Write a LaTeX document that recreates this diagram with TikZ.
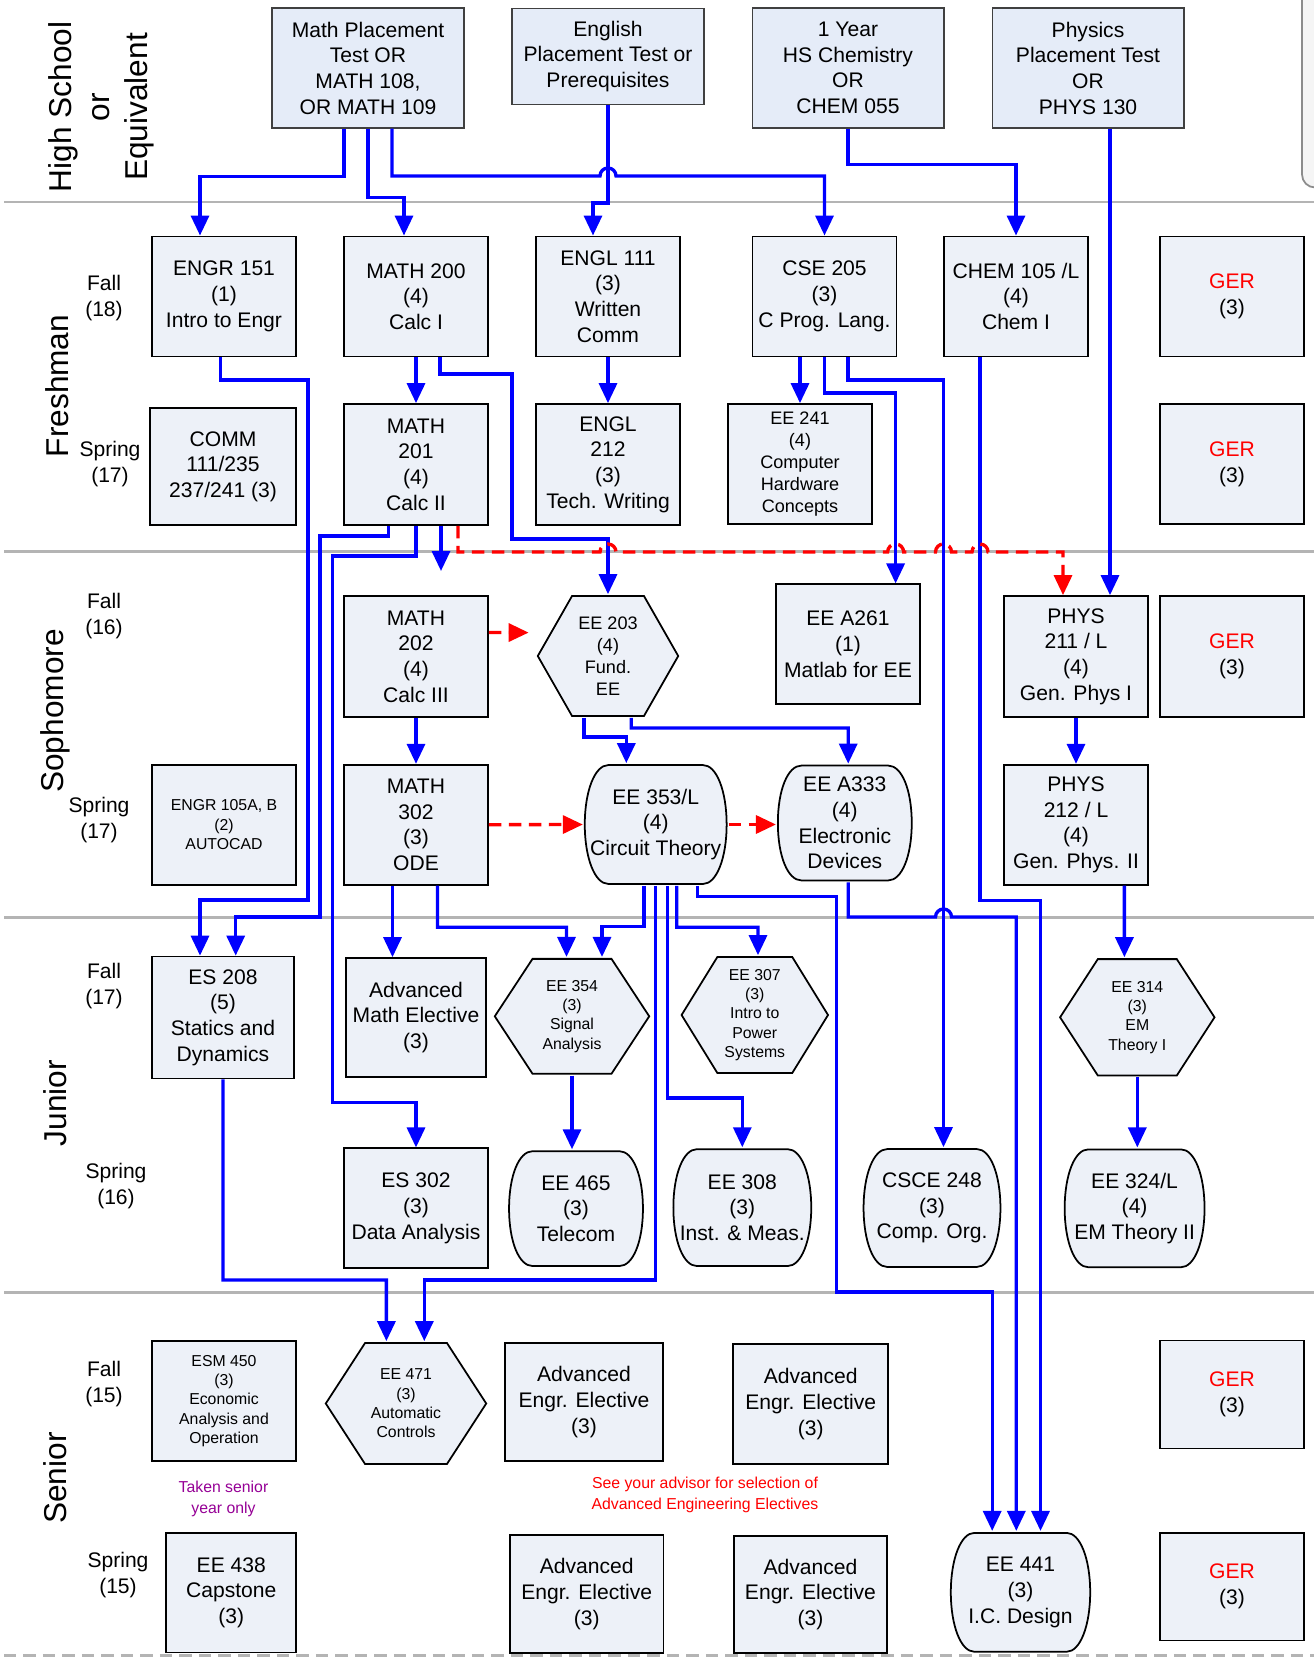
\documentclass[tikz,border=0pt]{standalone}
\usepackage{fontspec}
\setmainfont{Liberation Sans}
\usetikzlibrary{shapes,arrows.meta,calc}

\definecolor{boxfill}{RGB}{237,241,248}
\definecolor{testfill}{RGB}{229,236,248}
\definecolor{notepurple}{RGB}{150,0,150}
\definecolor{ruleg}{RGB}{180,180,180}
\newcommand{\ppb}{path picture bounding box}

\begin{document}
\begin{tikzpicture}[
    x=0.02cm, y=-0.02cm,
    course/.style={rectangle, draw=black, fill=boxfill, line width=1pt, minimum width=2.88cm, minimum height=2.4cm, inner sep=0pt, align=center, font=\fontsize{12}{14.6}\selectfont},
    placement/.style={course, draw=black!75, fill=testfill, line width=0.6pt, minimum width=3.84cm},
    small/.style={font=\fontsize{10.3}{12.6}\selectfont},
    tiny/.style={font=\fontsize{9}{11}\selectfont},
    hexcourse/.style={course, draw=none, fill=none, path picture={
        \filldraw[fill=boxfill, draw=black, line width=1pt]
          ([xshift=1pt]\ppb.west)
          -- ($(\ppb.north west)!0.25!(\ppb.north east)+(0,-0.6pt)$)
          -- ($(\ppb.north west)!0.75!(\ppb.north east)+(0,-0.6pt)$)
          -- ([xshift=-1pt]\ppb.east)
          -- ($(\ppb.south west)!0.75!(\ppb.south east)+(0,0.6pt)$)
          -- ($(\ppb.south west)!0.25!(\ppb.south east)+(0,0.6pt)$)
          -- cycle;}},
    ovalcourse/.style={course, draw=none, fill=none, path picture={
        \filldraw[fill=boxfill, draw=black, line width=1pt]
          ([xshift=14pt,yshift=0.6pt]\ppb.south west)
          -- ([xshift=-14pt,yshift=0.6pt]\ppb.south east)
          .. controls +(7.7pt,0) and +(0,-19pt) .. ([xshift=-0.6pt]\ppb.east)
          .. controls +(0,19pt) and +(7.7pt,0) .. ([xshift=-14pt,yshift=-0.6pt]\ppb.north east)
          -- ([xshift=14pt,yshift=-0.6pt]\ppb.north west)
          .. controls +(-7.7pt,0) and +(0,19pt) .. ([xshift=0.6pt]\ppb.west)
          .. controls +(0,-19pt) and +(-7.7pt,0) .. ([xshift=14pt,yshift=0.6pt]\ppb.south west)
          -- cycle;}},
    yearlabel/.style={rotate=90, align=center, font=\fontsize{18}{21.6}\selectfont},
    term/.style={align=center, font=\fontsize{12}{14.8}\selectfont},
    note/.style={align=center, font=\fontsize{9}{11.7}\selectfont},
    divider/.style={draw=ruleg, line width=1.7pt},
    flow/.style={draw=blue, line width=1.9pt, -{Triangle[width=0.36cm,length=0.4cm]}},
    dep/.style={draw=red, line width=1.9pt, dash pattern=on 0.25cm off 0.15cm, -{Triangle[width=0.36cm,length=0.4cm]}},
]
    \useasboundingbox (0,0) rectangle (1314,1659);
    \fill[white] (0,0) rectangle (1314,1659);
    \clip (0,0) rectangle (1314,1659);

    % Year rules
    \foreach \yy in {202,551.7,917,1292}
        \draw[divider] (4,\yy) -- (1314,\yy);
    \draw[divider, dash pattern=on 0.25cm off 0.14cm] (4,1655) -- (1314,1655);
    \draw[draw=black!45, fill=black!4, line width=1pt, rounded corners=0.26cm] (1302,-30) rectangle (1400,187.5);

    % Years and terms
    \node[yearlabel] (hs) at (101,107) {High School\\or\\Equivalent};
    \node[yearlabel] (fresh) at (57,386) {Freshman};
    \node[yearlabel] (soph) at (55,711) {Sophomore};
    \node[yearlabel] (jun) at (55,1103) {Junior};
    \node[yearlabel] (sen) at (55,1478) {Senior};
    \node[term] (fall1) at (104,298) {Fall\\(18)};
    \node[term] (spring1) at (110,464.5) {Spring\\(17)};
    \node[term] (fall2) at (104,616) {Fall\\(16)};
    \node[term] (spring2) at (99,820.5) {Spring\\(17)};
    \node[term] (fall3) at (104,986) {Fall\\(17)};
    \node[term] (spring3) at (116,1185.7) {Spring\\(16)};
    \node[term] (fall4) at (104,1384) {Fall\\(15)};
    \node[term] (spring4) at (118,1574.6) {Spring\\(15)};

    % Placement
    \node[placement] (mathpt) at (368,68) {Math Placement\\Test OR\\MATH 108,\\OR MATH 109};
    \node[placement, minimum height=1.93cm] (englpt) at (608,56.5) {English\\Placement Test or\\Prerequisites};
    \node[placement] (chempt) at (848,68) {1 Year\\HS Chemistry\\OR\\CHEM 055};
    \node[placement] (physpt) at (1088,68) {Physics\\Placement Test\\OR\\PHYS 130};

    % Freshman
    \node[course] (engr151) at (224,296.4) {ENGR 151\\(1)\\Intro to Engr};
    \node[course] (math200) at (416,296.4) {MATH 200\\(4)\\Calc I};
    \node[course] (engl111) at (608,296.4) {ENGL 111\\(3)\\Written\\Comm};
    \node[course] (cse205) at (824.5,296.4) {CSE 205\\(3)\\C Prog. Lang.};
    \node[course] (chem105) at (1016,296.4) {CHEM 105 /L\\(4)\\Chem I};
    \node[course] (ger1) at (1232,296.4) {\textcolor{red}{GER}\\(3)};
    \node[course, minimum width=2.92cm, minimum height=2.34cm] (comm) at (223,466.5) {COMM\\111/235\\237/241 (3)};
    \node[course, minimum height=2.42cm] (math201) at (416,464.5) {MATH\\201\\(4)\\Calc II};
    \node[course, minimum height=2.42cm] (engl212) at (608,464.5) {ENGL\\212\\(3)\\Tech. Writing};
    \node[course, small] (ee241) at (800,464) {EE 241\\(4)\\Computer\\Hardware\\Concepts};
    \node[course] (ger2) at (1232,464) {\textcolor{red}{GER}\\(3)};

    % Sophomore
    \node[course, minimum height=2.42cm] (math202) at (416,656.5) {MATH\\202\\(4)\\Calc III};
    \node[hexcourse, small, minimum height=2.44cm] (ee203) at (608,656) {EE 203\\(4)\\Fund.\\EE};
    \node[course] (eea261) at (848,644.3) {EE A261\\(1)\\Matlab for EE};
    \node[course, minimum height=2.42cm] (phys211) at (1076,656.5) {PHYS\\211 / L\\(4)\\Gen. Phys I};
    \node[course, minimum height=2.42cm] (ger3) at (1232,656.5) {\textcolor{red}{GER}\\(3)};
    \node[course, tiny] (engr105) at (224,824.7) {ENGR 105A, B\\(2)\\AUTOCAD};
    \node[course] (math302) at (416,824.7) {MATH\\302\\(3)\\ODE};
    \node[ovalcourse, minimum height=2.42cm] (ee353) at (655.7,824.5) {EE 353/L\\(4)\\Circuit Theory};
    \node[ovalcourse, minimum width=2.72cm, minimum height=2.34cm] (eea333) at (844.8,823) {EE A333\\(4)\\Electronic\\Devices};
    \node[course] (phys212) at (1076,824.7) {PHYS\\212 / L\\(4)\\Gen. Phys. II};

    % Junior
    \node[course, minimum width=2.84cm, minimum height=2.44cm] (es208) at (223,1017.5) {ES 208\\(5)\\Statics and\\Dynamics};
    \node[course, minimum width=2.8cm, minimum height=2.38cm] (advmath) at (416,1017.5) {Advanced\\Math Elective\\(3)};
    \node[hexcourse, tiny, minimum width=3.16cm, minimum height=2.34cm] (ee354) at (572,1016.3) {EE 354\\(3)\\Signal\\Analysis};
    \node[hexcourse, tiny, minimum width=3cm, minimum height=2.36cm] (ee307) at (754.8,1015) {EE 307\\(3)\\Intro to\\Power\\Systems};
    \node[hexcourse, tiny, minimum width=3.16cm, minimum height=2.37cm] (ee314) at (1137.3,1017.3) {EE 314\\(3)\\EM\\Theory I};
    \node[course] (es302) at (416,1208.3) {ES 302\\(3)\\Data Analysis};
    \node[ovalcourse, minimum width=2.72cm, minimum height=2.34cm] (ee465) at (576,1208.6) {EE 465\\(3)\\Telecom};
    \node[ovalcourse, minimum width=2.8cm, minimum height=2.38cm] (ee308) at (742.3,1207.6) {EE 308\\(3)\\Inst. \& Meas.};
    \node[ovalcourse, minimum width=2.78cm] (csce248) at (932,1208) {CSCE 248\\(3)\\Comp. Org.};
    \node[ovalcourse, minimum width=2.84cm] (ee324) at (1134.6,1208.3) {EE 324/L\\(4)\\EM Theory II};

    % Senior
    \node[course, tiny] (esm450) at (224,1401) {ESM 450\\(3)\\Economic\\Analysis and\\Operation};
    \node[hexcourse, tiny, minimum width=3.28cm, minimum height=2.46cm] (ee471) at (406,1403.5) {EE 471\\(3)\\Automatic\\Controls};
    \node[course, minimum width=3.16cm, minimum height=2.36cm] (adv1) at (584,1402) {Advanced\\Engr. Elective\\(3)};
    \node[course, minimum width=3.1cm] (adv2) at (810.7,1404) {Advanced\\Engr. Elective\\(3)};
    \node[course, minimum height=2.16cm] (ger4) at (1232,1394.5) {\textcolor{red}{GER}\\(3)};
    \node[note, text=notepurple] (seniornote) at (223.5,1499) {Taken senior\\year only};
    \node[note, text=red] (advnote) at (705,1495) {See your advisor for selection of\\Advanced Engineering Electives};
    \node[course, minimum width=2.6cm] (ee438) at (231.3,1592.6) {EE 438\\Capstone\\(3)};
    \node[course, minimum width=3.07cm, minimum height=2.36cm] (adv3) at (586.7,1594) {Advanced\\Engr. Elective\\(3)};
    \node[course, minimum width=3.06cm, minimum height=2.34cm] (adv4) at (810.4,1594.4) {Advanced\\Engr. Elective\\(3)};
    \node[ovalcourse, minimum width=2.83cm, minimum height=2.42cm] (ee441) at (1020.5,1592.3) {EE 441\\(3)\\I.C. Design};
    \node[course, minimum height=2.16cm] (ger5) at (1232,1586.6) {\textcolor{red}{GER}\\(3)};

    % Prerequisites into freshman year
    \draw[flow] ($(mathpt.south)+(-24,0)$) -- ++(0,48) -| ($(engr151.north)+(-24,0)$);
    \draw[flow] (mathpt.south) -- ++(0,69) -| ($(math200.north)+(-12,0)$);
    \draw[flow] ($(mathpt.south)+(24,0)$) |- (600,176) arc[start angle=180, end angle=0, radius=0.16cm] -| (cse205.north);
    \draw[flow] (englpt.south) |- (593,203) -- ($(engl111.north)+(-15,0)$);
    \draw[flow] (chempt.south) -- ++(0,36) -| (chem105.north);
    \draw[flow] ($(physpt.south)+(22,0)$) -- ($(phys211.north)+(34,0)$);

    % Freshman links
    \draw[flow] (math200.south) -- (math201.north);
    \draw[flow] (engl111.south) -- (engl212.north);
    \draw[flow] ($(cse205.south)+(-24.5,0)$) -- (ee241.north);
    \draw[flow] ($(engr151.south)+(-3.5,0)$) |- (308,380) -- (308,900) -| ($(es208.north)+(-23,0)$);
    \draw[flow] ($(math200.south)+(24,0)$) |- (512,374) |- (608,539) -- (ee203.north);
    \draw[flow] ($(math201.south)+(-27.5,0)$) |- (320,536) -- (320,917) -| ($(es208.north)+(12.7,0)$);
    \draw[flow] (math201.south) |- (332.5,556) -- (332.5,1102.6) -| (es302.north);
    \coordinate (calcend) at (441,571);
    \draw[flow] ($(math201.south)+(25,0)$) -- (calcend);
    \draw[flow] (cse205.south) |- (895.6,393) -- ($(eea261.north)+(47.6,0)$);
    \draw[flow] ($(cse205.south)+(23.5,0)$) |- (943.5,380) -- ($(csce248.north)+(11.5,0)$);
    \draw[flow] ($(chem105.south)+(-36,0)$) |- (1040.5,900.5) -- ($(ee441.north)+(20,0)$);
    \draw[dep] ($(math201.south)+(42,0)$) |- (600,552)
        arc[start angle=180, end angle=0, radius=0.16cm] -- (887.6,552)
        arc[start angle=180, end angle=0, radius=0.16cm] -- (935.5,552)
        arc[start angle=180, end angle=0, radius=0.16cm] -- (972,552)
        arc[start angle=180, end angle=0, radius=0.16cm] -| ($(phys211.north)+(-13,0)$);

    % Sophomore links
    \draw[flow] (math202.south) -- (math302.north);
    \draw[dep] ($(math202.east)+(0,-24)$) -- ($(ee203.west)+(-6.5,-23.4)$);
    \draw[dep] (math302.east) -- (ee353.west);
    \draw[dep] (ee353.east) -- (ee353.east -| eea333.west);
    \draw[flow] ($(ee203.south)+(-24,0)$) |- (626.3,737) -- ($(ee353.north)+(-29.4,0)$);
    \draw[flow] ($(ee203.south)+(23.3,0)$) |- (848.2,728) -- ($(eea333.north)+(3.4,0)$);
    \draw[flow] (phys211.south) -- (phys212.north);
    \draw[flow] ($(math302.south)+(-23.5,0)$) -- ($(advmath.north)+(-23.5,0)$);
    \draw[flow] ($(math302.south)+(21.5,0)$) |- (566.5,927.3) -- ($(ee354.north)+(-5.5,0)$);
    \draw[flow] ($(ee353.south)+(-11.7,0)$) |- (602,926.5) -- ($(ee354.north)+(30,0)$);
    \draw[flow] ($(ee353.south)+(21,0)$) |- (758,927.3) -- ($(ee307.north)+(3.2,0)$);
    \draw[flow] ($(ee353.south)+(12,0)$) |- (742.3,1098) -- (ee308.north);
    \draw[flow] (ee353.south) |- (424.3,1280) -- ($(ee471.north)+(18.3,0)$);
    \draw[flow] ($(ee353.south)+(41.7,0)$) |- (836.4,896.7) |- (992.2,1292) -- ($(ee441.north)+(-28.3,0)$);
    \draw[flow] ($(eea333.south)+(3.4,0)$) |- (935.5,917)
        arc[start angle=180, end angle=0, radius=0.16cm] -| ($(ee441.north)+(-4.2,0)$);
    \draw[flow] ($(phys212.south)+(48.4,0)$) -- ($(ee314.north)+(-12.9,0)$);

    % Junior links
    \draw[flow] (es208.south) |- (386.4,1280) -- ($(ee471.north)+(-19.6,0)$);
    \draw[flow] (ee354.south) -- (ee354.south |- ee465.north);
    \draw[flow] (ee314.south) -- (ee314.south |- ee324.north);
\end{tikzpicture}
\end{document}
